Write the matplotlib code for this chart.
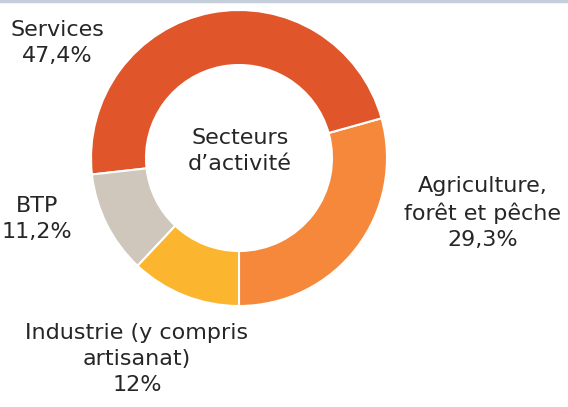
import matplotlib.pyplot as plt
from matplotlib.lines import Line2D

# sector shares (%), in drawing order counter-clockwise from the bottom
sectors = ["Agriculture", "Services", "BTP", "Industrie"]
shares = [29.3, 47.4, 11.2, 12.0]
colors = ["#F5883B", "#E0562A", "#CFC6BC", "#FBB52E"]

labels = {
    "Services": "Services\n47,4%",
    "BTP": "BTP\n11,2%",
    "Industrie": "Industrie (y compris\nartisanat)\n12%",
    "Agriculture": "Agriculture,\nforêt et pêche\n29,3%",
}
label_pos = {
    "Services": (57, 364),
    "BTP": (37, 188),
    "Industrie": (137, 48),
    "Agriculture": (483, 194),
}

W, H = 568, 407
fig = plt.figure(figsize=(W / 100, H / 100), dpi=100)
ax = fig.add_axes([0, 0, 1, 1])

ax.pie(shares, colors=colors, startangle=-90, counterclock=True,
       center=(239, 249), radius=148, frame=True,
       wedgeprops=dict(width=55, edgecolor="white", linewidth=1.5))
ax.set_xlim(0, W)
ax.set_ylim(0, H)
ax.axis("off")

font = "DejaVu Sans"
txt = "#262626"
fs = 16
ax.text(240, 256, "Secteurs\nd\u2019activité", ha="center", va="center",
        fontsize=fs, family=font, color=txt, linespacing=1.36)
for key in sectors:
    x, y = label_pos[key]
    ax.text(x, y, labels[key], ha="center", va="center", fontsize=fs,
            family=font, color=txt, linespacing=1.38)

fig.add_artist(Line2D([0, 1], [0.997, 0.997], color="#C5CEDB", lw=2.5,
                      transform=fig.transFigure))

fig.savefig("out.png", dpi=100)
